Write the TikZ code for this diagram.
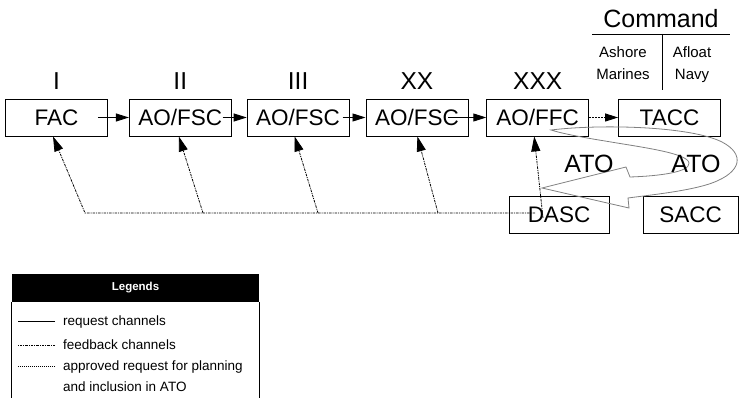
\documentclass[tikz,border=0pt]{standalone}
\usepackage{fontspec}
\setmainfont{Liberation Sans}
\usepackage{xcolor}
\usetikzlibrary{arrows.meta,positioning}
\definecolor{atogray}{HTML}{808080}

\begin{document}
\begin{tikzpicture}[
    x=1pt, y=-1pt,
    >={Triangle[length=13pt,width=8pt]},
    unit/.style={rectangle, draw, line width=0.8pt, minimum width=102pt, minimum height=37pt, inner sep=0pt, font=\fontsize{22.5}{26}\selectfont},
    echelon/.style={inner sep=0pt, font=\fontsize{24.5}{28}\selectfont},
    cmdtext/.style={anchor=base, inner sep=0pt, font=\fontsize{15}{18}\selectfont},
    req/.style={->, line width=0.9pt},
    fb/.style={-{Triangle[length=15pt,width=9pt]}, line width=0.8pt, dash pattern=on 2.5pt off 1pt on 1pt off 1pt},
    appr/.style={->, line width=0.9pt, dash pattern=on 1.5pt off 1.5pt},
    legtext/.style={anchor=base west, inner sep=0pt, font=\fontsize{13.5}{16}\selectfont},
]
\useasboundingbox (0,0) rectangle (739,398);

% Units
\node[unit] (fac) at (56.5,117.5) {FAC};
\node[unit, right=21pt of fac] (fsc2) {AO/FSC};
\node[unit, right=15pt of fsc2] (fsc3) {AO/FSC};
\node[unit, right=16pt of fsc3] (fsc20) {AO/FSC};
\node[unit, right=18pt of fsc20] (ffc) {AO/FFC};
\node[unit, right=29pt of ffc] (tacc) {TACC};
\node[unit, minimum width=100pt] (dasc) at (559,214.5) {DASC};
\node[unit, minimum width=95pt] (sacc) at (690.5,214.5) {SACC};

% Echelons
\node[echelon, above=9pt of fac] (ech1) {I};
\node[echelon, above=9pt of fsc2] (ech2) {II};
\node[echelon, above=9pt of fsc3] (ech3) {III};
\node[echelon, above=9pt of fsc20] (ech20) {XX};
\node[echelon, above=9pt of ffc] (ech30) {XXX};

% Command header
\node[anchor=base, inner sep=0pt, font=\fontsize{25}{30}\selectfont] (cmd) at (661,28) {Command};
\coordinate (cmdl) at (592,34);
\coordinate (cmdr) at (730,34);
\coordinate (cmdm) at (662,34);
\coordinate (cmdb) at (662,90);
\draw[line width=0.8pt] (cmdl) -- (cmdr);
\draw[line width=0.8pt] (cmdm) -- (cmdb);
\node[cmdtext] (ashore) at (623,58) {Ashore};
\node[cmdtext] (marines) at (623,80) {Marines};
\node[cmdtext] (afloat) at (692,58) {Afloat};
\node[cmdtext] (navy) at (692,80) {Navy};

% Request channels
\draw[req] ([xshift=-10pt]fac.east) -- (fsc2.west);
\draw[req] ([xshift=-9pt]fsc2.east) -- (fsc3.west);
\draw[req] ([xshift=-7pt]fsc3.east) -- (fsc20.west);
\draw[req] ([xshift=-20pt]fsc20.east) -- (ffc.west);
\draw[appr] (ffc.east) -- (tacc.west);

% Feedback channels
\coordinate (fbstart) at (535,213);
\coordinate (fbcorner) at (85,213);
\coordinate (fb2) at (203,213);
\coordinate (fb3) at (318,213);
\coordinate (fb20) at (438,213);
\draw[fb] (fbstart) -- (fbcorner) -- ([xshift=-3.5pt]fac.south);
\draw[fb] (fb2) -- ([xshift=-1.5pt]fsc2.south);
\draw[fb] (fb3) -- ([xshift=-3.5pt]fsc3.south);
\draw[fb] (fb20) -- ([xshift=0.5pt]fsc20.south);
\draw[fb] ([xshift=-16pt,yshift=-3.5pt]dasc.center) -- ([xshift=-3.5pt]ffc.south);

% ATO turn arrow
\draw[atogray, line width=0.8pt] (551,130)
    .. controls (600,124) and (690,126) .. (722,142)
    .. controls (745,154) and (742,172) .. (712,183)
    .. controls (690,191) and (650,195) .. (628,198)
    -- (629,208) -- (542,188) -- (626,167) -- (630,177)
    .. controls (660,176) and (690,172) .. (689,163)
    .. controls (688,153) and (640,147) .. (605,141)
    .. controls (580,137) and (560,133) .. (551,130) -- cycle;
\node[anchor=base, inner sep=0pt, font=\fontsize{25}{30}\selectfont] (ato1) at (589,173) {ATO};
\node[anchor=base, inner sep=0pt, font=\fontsize{25}{30}\selectfont] (ato2) at (696,173) {ATO};

% Legend
\node[fill=black, text=white, minimum width=247pt, minimum height=28pt, inner sep=0pt, font=\fontsize{11.5}{14}\selectfont\bfseries] (leghead) at (135.5,288) {Legends};
\coordinate (legbot) at (0,398);
\draw[line width=0.8pt] (leghead.south west) -- (leghead.south west |- legbot);
\draw[line width=0.8pt] (leghead.south east) -- (leghead.south east |- legbot);
\node[legtext] (lreq) at (63,325) {request channels};
\node[legtext] (lfb) at (63,349) {feedback channels};
\node[legtext] (lappr) at (63,370) {approved request for planning};
\node[legtext] (lappr2) at (63,391) {and inclusion in ATO};
\draw[line width=0.9pt] ([xshift=-8pt,yshift=4pt]lreq.base west) -- ([xshift=-45pt,yshift=4pt]lreq.base west);
\draw[line width=0.7pt, dash pattern=on 2.5pt off 1pt on 1pt off 1pt] ([xshift=-8pt,yshift=4pt]lfb.base west) -- ([xshift=-45pt,yshift=4pt]lfb.base west);
\draw[line width=0.7pt, dash pattern=on 1pt off 1pt] ([xshift=-8pt,yshift=4pt]lappr.base west) -- ([xshift=-45pt,yshift=4pt]lappr.base west);

\end{tikzpicture}
\end{document}
